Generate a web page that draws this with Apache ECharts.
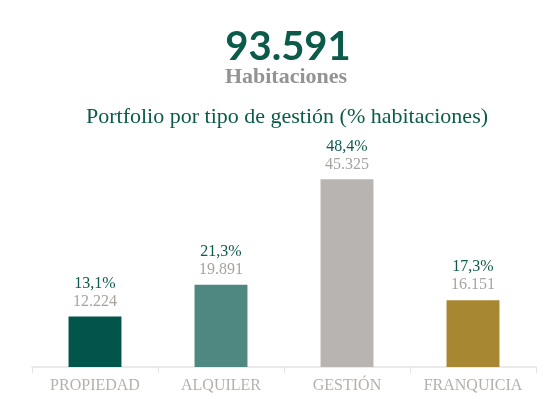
<!DOCTYPE html>
<html>
<head>
<meta charset="utf-8">
<script src="https://cdn.jsdelivr.net/npm/echarts@6/dist/echarts.min.js"></script>
<style>
  html, body { margin: 0; padding: 0; background: #fff; }
  #graphs { width: 552px; height: 410px; }
</style>
</head>
<body>
<div id="graphs"></div>
<script>
var totalLabel = '93.591';
var totalSub = 'Habitaciones';
var chartTitle = 'Portfolio por tipo de gestión (% habitaciones)';

var categories = ['PROPIEDAD', 'ALQUILER', 'GESTIÓN', 'FRANQUICIA'];
var rooms = [12224, 19891, 45325, 16151];
var shares = ['13,1%', '21,3%', '48,4%', '17,3%'];
var colors = ['#02554a', '#4e8880', '#b8b4b1', '#a78731'];

var green = '#0b5a4a';
var serif = '"Liberation Serif", "DejaVu Serif", serif';

function fmt(n) {
    return String(n).replace(/\B(?=(\d{3})+(?!\d))/g, '.');
}

var myChart = echarts.init(document.getElementById('graphs'));

var option = {
    animation: false,
    title: [{
        text: totalLabel,
        left: 283,
        textAlign: 'center',
        top: 22,
        textStyle: {fontFamily: 'Lato, sans-serif', fontWeight: 'bold', fontSize: 40, color: green}
    }, {
        text: totalSub,
        left: 281,
        textAlign: 'center',
        top: 61,
        textStyle: {fontFamily: serif, fontWeight: 'bold', fontSize: 22, color: '#939393'}
    }, {
        text: chartTitle,
        left: 282,
        textAlign: 'center',
        top: 101,
        textStyle: {fontFamily: serif, fontWeight: 'normal', fontSize: 22, color: green}
    }],
    grid: {left: 32, right: 16, top: 160, bottom: 43},
    xAxis: {
        type: 'category',
        data: categories,
        axisLine: {lineStyle: {color: '#e6e4e2', width: 1.5}},
        axisTick: {show: true, length: 6, lineStyle: {color: '#e6e4e2'}},
        axisLabel: {interval: 0, fontFamily: serif, fontSize: 16, color: '#b5b0ad', margin: 11}
    },
    yAxis: {
        type: 'value',
        min: 0,
        max: 50000,
        show: false,
        splitLine: {show: false}
    },
    series: [{
        type: 'bar',
        barWidth: '42%',
        data: rooms.map(function (v, i) {
            return {value: v, itemStyle: {color: colors[i]}};
        }),
        label: {
            show: true,
            position: 'top',
            distance: 6,
            fontFamily: serif,
            formatter: function (p) {
                return '{p|' + shares[p.dataIndex] + '}\n{n|' + fmt(p.value) + '}';
            },
            rich: {
                p: {fontSize: 16, color: green, lineHeight: 18, fontFamily: serif},
                n: {fontSize: 16, color: '#a7a3a0', lineHeight: 18, fontFamily: serif}
            }
        }
    }]
};

myChart.setOption(option);
</script>
</body>
</html>
